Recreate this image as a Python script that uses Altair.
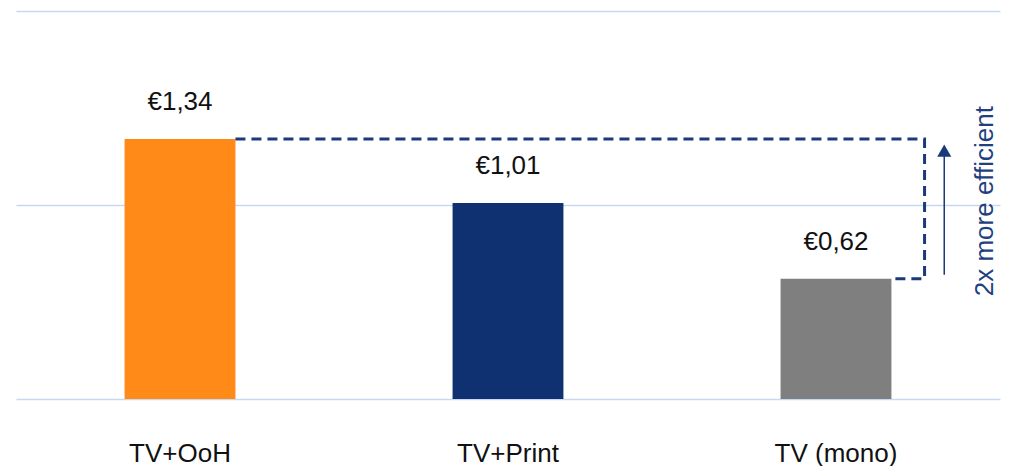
import altair as alt
import pandas as pd

categories = ["TV+OoH", "TV+Print", "TV (mono)"]
values = [1.34, 1.01, 0.62]
colors = ["#FF8A17", "#0F3171", "#7F7F7F"]
value_labels = ["€1,34", "€1,01", "€0,62"]

# annotation path (x in band units on a 0-3 linear scale, y in value units)
path_x = [0.669, 2.77, 2.77, 2.669]
path_y = [1.34, 1.34, 0.62, 0.62]
arrow_x = 2.83
arrow_y0 = 0.64
arrow_y1 = 1.28
note_text = "2x more efficient"
note_x = 2.955
note_y = 1.02

FONT = "Liberation Sans, Arial, sans-serif"
NAVY = "#1A3A78"

df = pd.DataFrame({"cat": categories, "val": values, "color": colors, "lab": value_labels})
path_df = pd.DataFrame({"x": path_x, "y": path_y, "i": list(range(len(path_x)))})
arrow_df = pd.DataFrame({"x": [arrow_x], "y": [arrow_y0], "y2": [arrow_y1]})
note_df = pd.DataFrame({"x": [note_x], "y": [note_y], "t": [note_text]})

yscale = alt.Scale(domain=[0, 2])
xlin = alt.Scale(domain=[0, 3])

bars = alt.Chart(df).mark_bar().encode(
    x=alt.X("cat:N", sort=categories, title=None,
            scale=alt.Scale(paddingInner=0.662, paddingOuter=0.331),
            axis=alt.Axis(labelAngle=0, ticks=False, tickSize=0, domain=False,
                          labelFont=FONT, labelFontSize=26, labelColor="#111111",
                          labelBaseline="alphabetic", labelPadding=62, grid=False)),
    y=alt.Y("val:Q", scale=yscale, title=None,
            axis=alt.Axis(values=[0, 1, 2], labels=False, ticks=False, domain=False,
                          grid=True, gridColor="#C8D7F2", gridWidth=1.5)),
    color=alt.Color("color:N", scale=None),
)

texts = alt.Chart(df).mark_text(font=FONT, fontSize=26, color="#111111",
                                baseline="alphabetic", dy=-29).encode(
    x=alt.X("cat:N", sort=categories),
    y=alt.Y("val:Q", scale=yscale),
    text="lab:N",
)

path = alt.Chart(path_df).mark_line(color=NAVY, strokeWidth=3, strokeDash=[10, 6]).encode(
    x=alt.X("x:Q", scale=xlin, axis=None),
    y=alt.Y("y:Q", scale=yscale),
    order="i:Q",
)

arrow = alt.Chart(arrow_df).mark_rule(color=NAVY, strokeWidth=1.5).encode(
    x=alt.X("x:Q", scale=xlin, axis=None),
    y=alt.Y("y:Q", scale=yscale),
    y2="y2:Q",
)

head = alt.Chart(arrow_df).mark_point(shape="triangle-up", filled=True, size=200,
                                      color=NAVY, opacity=1).encode(
    x=alt.X("x:Q", scale=xlin, axis=None),
    y=alt.Y("y2:Q", scale=yscale),
)

note = alt.Chart(note_df).mark_text(font=FONT, fontSize=26, color="#1F3F80",
                                    angle=270, align="center", baseline="middle").encode(
    x=alt.X("x:Q", scale=xlin, axis=None),
    y=alt.Y("y:Q", scale=yscale),
    text="t:N",
)

bar_layer = alt.layer(bars, texts)
ann_layer = alt.layer(path, arrow, head, note)

chart = alt.layer(bar_layer, ann_layer).resolve_scale(x="independent").properties(
    width=984, height=388,
    background="white",
    autosize=alt.AutoSizeParams(type="none"),
    padding={"left": 8, "top": 3, "right": 10, "bottom": 70},
).configure_view(strokeOpacity=0, strokeWidth=0)

chart.save("out.html", embed_options={"renderer": "svg", "actions": False})
